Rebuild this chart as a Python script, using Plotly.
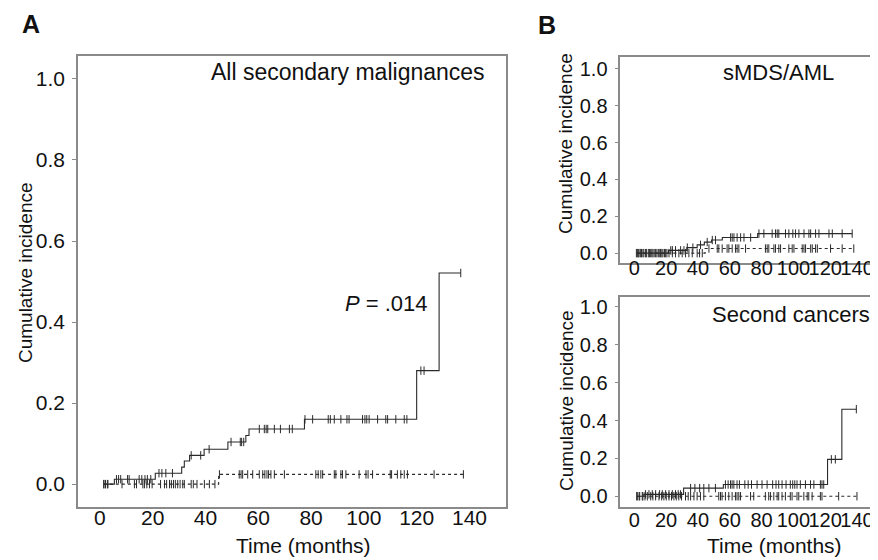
import numpy as np
import plotly.graph_objects as go

# Panel A - all secondary malignances
a_solid_event_t = [5.5, 21.0, 31.0, 32.0, 34.0, 39.5, 48.5, 55.3, 56.5, 77.5, 120.0, 128.5]
a_solid_event_v = [0.012, 0.027, 0.042, 0.057, 0.071, 0.086, 0.104, 0.120, 0.136, 0.160, 0.280, 0.521]
a_solid_censor = [1.5, 2.2, 3.0, 6.3, 7.1, 7.9, 10.5, 11.1, 14.9, 15.9, 17.1, 18.0, 19.3,
                  22.4, 23.5, 25.0, 27.5, 34.6, 38.2, 41.4, 49.7, 53.2, 53.7, 54.5, 60.4,
                  62.3, 63.0, 63.6, 66.1, 68.4, 71.8, 72.9, 77.7, 80.6, 86.5, 87.3, 88.8,
                  91.3, 93.6, 94.4, 99.5, 100.4, 101.1, 102.0, 105.2, 108.3, 109.0, 112.1,
                  115.3, 116.3, 121.6, 122.8, 136.7]

a_dot_event_t = [45.0]
a_dot_event_v = [0.024]
a_dot_censor = [1.5, 2.1, 3.0, 8.4, 13.1, 13.9, 16.3, 16.9, 17.8, 18.8, 19.8, 23.0, 24.5,
                25.3, 26.4, 27.1, 27.9, 28.6, 29.5, 30.4, 31.4, 32.0, 34.6, 35.4, 36.8,
                39.6, 41.5, 43.6, 45.3, 52.8, 53.5, 54.1, 56.0, 57.9, 60.4, 61.7, 62.5,
                63.3, 63.9, 64.8, 66.1, 69.9, 81.8, 82.7, 83.7, 84.4, 88.8, 89.4, 91.3,
                91.9, 93.2, 98.2, 100.8, 101.6, 103.3, 110.0, 110.5, 112.7, 114.0, 115.3,
                116.5, 126.6, 137.7]

# Panel B top - sMDS/AML
b_top_solid_event_t = [21.5, 33.0, 39.5, 44.0, 48.5, 55.3, 77.5]
b_top_solid_event_v = [0.015, 0.030, 0.045, 0.060, 0.071, 0.085, 0.106]
b_top_solid_censor = [1.3, 2.5, 4.0, 5.4, 7.1, 8.8, 10.3, 11.7, 13.4, 15.1, 16.5, 18.0, 19.7,
                      22.9, 23.9, 25.9, 29.1, 31.2, 33.3, 36.8, 41.6, 45.8, 49.0, 51.0, 60.5,
                      61.5, 62.6, 64.6, 66.8, 68.9, 73.1, 78.3, 81.4, 86.6, 88.7, 89.8, 90.8,
                      95.0, 97.1, 99.6, 101.3, 103.4, 106.6, 109.7, 110.8, 113.9, 116.0,
                      122.3, 124.4, 130.6, 136.9]

b_top_dot_event_t = [44.5]
b_top_dot_event_v = [0.025]
b_top_dot_censor = [1.9, 3.0, 4.5, 6.0, 7.6, 9.5, 11.0, 12.5, 14.2, 16.0, 17.3, 19.0, 20.5,
                    21.8, 23.9, 25.9, 28.0, 30.1, 32.2, 34.3, 36.4, 39.5, 41.0, 42.7, 46.9,
                    52.1, 53.1, 55.2, 58.3, 59.4, 61.5, 63.6, 64.6, 65.7, 69.9, 82.4, 83.5,
                    84.5, 87.7, 88.7, 90.8, 91.9, 97.1, 99.2, 100.3, 105.5, 106.6, 107.6,
                    110.8, 111.8, 113.9, 115.0, 123.3, 130.6, 137.9]

# Panel B bottom - second cancers
b_bot_solid_event_t = [6.0, 31.0, 56.0, 121.5, 130.5]
b_bot_solid_event_v = [0.010, 0.043, 0.062, 0.195, 0.460]
b_bot_solid_censor = [1.5, 3.0, 5.4, 7.1, 9.2, 11.3, 13.4, 15.9, 17.6, 19.7, 21.8, 23.9, 25.9,
                      27.6, 29.1, 35.4, 38.1, 41.1, 43.7, 46.9, 51.0, 57.3, 59.0, 60.5, 61.5,
                      62.6, 64.6, 66.1, 69.5, 71.6, 73.7, 77.2, 80.3, 83.5, 87.0, 89.1, 90.8,
                      92.9, 95.4, 98.1, 99.6, 100.9, 102.3, 104.4, 107.6, 110.8, 112.9, 117.0,
                      118.0, 119.1, 123.9, 126.4, 139.6]

b_bot_dot_event_t = []
b_bot_dot_event_v = []
b_bot_dot_censor = [1.9, 3.4, 5.0, 6.7, 8.2, 10.3, 11.7, 13.4, 15.5, 17.2, 18.6, 20.1, 21.8,
                    23.4, 24.9, 26.4, 28.0, 29.7, 32.2, 33.9, 35.4, 37.5, 39.5, 41.6, 43.7,
                    53.1, 54.2, 55.2, 57.3, 59.4, 61.5, 63.6, 64.6, 65.7, 66.8, 73.1, 75.1,
                    82.4, 84.5, 85.6, 87.7, 89.8, 90.8, 92.9, 95.0, 98.1, 99.2, 102.3, 103.4,
                    106.6, 108.7, 109.7, 111.8, 117.0, 118.0, 128.5, 140.0]

x_ticks = [0, 20, 40, 60, 80, 100, 120, 140]
y_ticks = [0.0, 0.2, 0.4, 0.6, 0.8, 1.0]

FONT = "Arial, Liberation Sans, sans-serif"
FRAME = "#8a8a8a"
INK = "#2a2a2a"


def step_traces(event_t, event_v, censor, dotted, xa, ya):
    start, end = min(censor), max(censor)
    xs = [start] + list(event_t) + [end]
    ys = [0.0] + list(event_v) + [event_v[-1] if event_v else 0.0]
    line = go.Scatter(
        x=xs, y=ys, mode="lines", line_shape="hv",
        line=dict(color=INK, width=1.1, dash="dot" if dotted else "solid"),
        xaxis=xa, yaxis=ya, hoverinfo="skip",
    )
    # value of the step function at each censoring time
    idx = np.searchsorted(np.array(event_t, dtype=float), np.array(censor), side="right")
    vals = np.concatenate([[0.0], np.array(event_v, dtype=float)])[idx]
    marks = go.Scatter(
        x=censor, y=vals, mode="markers",
        marker=dict(symbol="line-ns-open", size=6, color=INK, line=dict(color=INK, width=1)),
        xaxis=xa, yaxis=ya,
    )
    return [line, marks]


fig = go.Figure()
for tr in (step_traces(a_solid_event_t, a_solid_event_v, a_solid_censor, False, "x", "y")
           + step_traces(a_dot_event_t, a_dot_event_v, a_dot_censor, True, "x", "y")
           + step_traces(b_top_solid_event_t, b_top_solid_event_v, b_top_solid_censor, False, "x2", "y2")
           + step_traces(b_top_dot_event_t, b_top_dot_event_v, b_top_dot_censor, True, "x2", "y2")
           + step_traces(b_bot_solid_event_t, b_bot_solid_event_v, b_bot_solid_censor, False, "x3", "y3")
           + step_traces(b_bot_dot_event_t, b_bot_dot_event_v, b_bot_dot_censor, True, "x3", "y3")):
    fig.add_trace(tr)


def xax(domain, anchor, rng, size, standoff):
    return dict(domain=domain, anchor=anchor, range=rng, tickvals=x_ticks, ticks="",
                ticklen=0, tickangle=0,
                showline=True, mirror=True, linecolor=FRAME, linewidth=1.5,
                showgrid=False, zeroline=False, tickfont=dict(size=size, color="#111"),
                ticklabelstandoff=standoff)


def yax(domain, anchor, rng, size):
    return dict(domain=domain, anchor=anchor, range=rng, tickvals=y_ticks, tickformat=".1f",
                ticks="outside", ticklen=4, tickcolor=FRAME, tickwidth=1,
                showline=True, mirror=True, linecolor=FRAME, linewidth=1.5,
                showgrid=False, zeroline=False, tickfont=dict(size=size, color="#111"),
                ticklabelstandoff=3)


def px_x(p):
    return p / 878


def px_y(p):
    return 1 - p / 560


annotations = [
    dict(text="<b>A</b>", x=px_x(23), y=px_y(15), font=dict(size=25)),
    dict(text="<b>B</b>", x=px_x(540), y=px_y(16), font=dict(size=25)),
    dict(text="Cumulative incidence", x=px_x(17), y=px_y(264), textangle=-90, font=dict(size=19)),
    dict(text="Time (months)", x=px_x(296), y=px_y(538), font=dict(size=21)),
    dict(text="Cumulative incidence", x=px_x(558), y=px_y(135), textangle=-90, font=dict(size=19)),
    dict(text="Cumulative incidence", x=px_x(559), y=px_y(393), textangle=-90, font=dict(size=19)),
    dict(text="Time (months)", x=px_x(767), y=px_y(538), font=dict(size=21)),
    dict(text="All secondary malignances", x=px_x(480), y=px_y(63), xanchor="right", font=dict(size=23)),
    dict(text="<i>P</i> = .014", x=px_x(422), y=px_y(296), xanchor="right", font=dict(size=22)),
    dict(text="sMDS/AML", x=px_x(771), y=px_y(64), font=dict(size=22)),
    dict(text="Second cancers", x=px_x(865), y=px_y(307), xanchor="right", font=dict(size=22)),
]
for a in annotations:
    a.update(xref="paper", yref="paper", showarrow=False)
    a.setdefault("xanchor", "center")
    a["yanchor"] = "middle"
    a["font"].update(family=FONT, color="#111")

fig.update_layout(
    width=878, height=560,
    margin=dict(l=0, r=0, t=0, b=0),
    paper_bgcolor="white", plot_bgcolor="white",
    showlegend=False,
    font=dict(family=FONT, color="#111"),
    xaxis=xax([70 / 878, 499 / 878], "y", [-8.3, 154], 21, -9),
    yaxis=yax([px_y(500), px_y(47)], "x", [-0.057, 1.057], 21),
    xaxis2=xax([613 / 878, 874 / 878], "y2", [-8.8, 155], 20, -14),
    yaxis2=yax([px_y(255), px_y(48)], "x2", [-0.054, 1.065], 20),
    xaxis3=xax([613 / 878, 877 / 878], "y3", [-8.8, 157], 20, -6),
    yaxis3=yax([px_y(500), px_y(289)], "x3", [-0.058, 1.053], 20),
    annotations=annotations,
)

fig.write_html("out.html")
